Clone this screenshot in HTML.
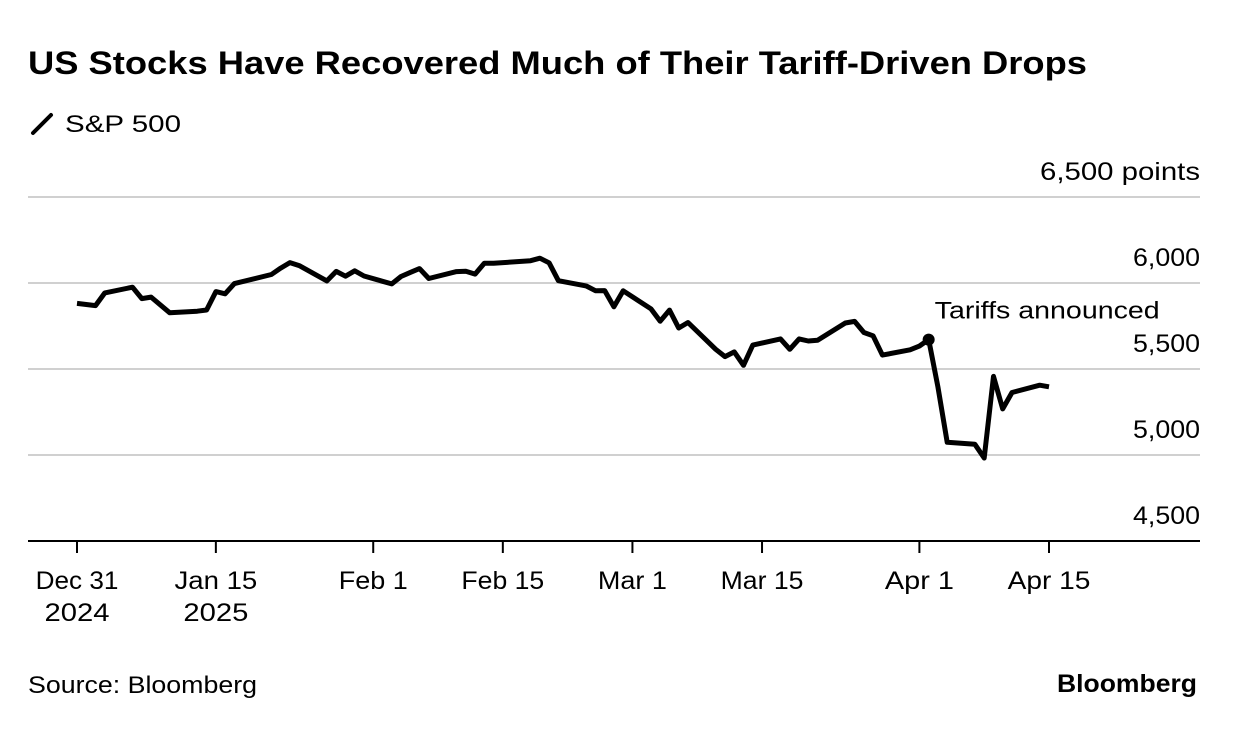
<!DOCTYPE html>
<html><head><meta charset="utf-8"><style>
body{margin:0;background:#fff;font-family:"Liberation Sans",sans-serif;}
svg text{font-family:"Liberation Sans",sans-serif;}
</style></head><body>
<svg width="1236" height="726" viewBox="0 0 1236 726">
<text x="28" y="74" font-size="32" font-weight="bold" fill="#000" textLength="1059" lengthAdjust="spacingAndGlyphs">US Stocks Have Recovered Much of Their Tariff-Driven Drops</text>
<g>
<line x1="33" y1="133" x2="51" y2="115" stroke="#000" stroke-width="4" stroke-linecap="round"/>
<text x="65" y="132" font-size="24" fill="#000" textLength="116" lengthAdjust="spacingAndGlyphs">S&amp;P 500</text>
</g>
<g id="grid"></g>
<g id="xaxis"></g>
<path id="line" fill="none" stroke="#000" stroke-width="5" stroke-linejoin="round"/>
<g id="annot"></g>
<text x="28" y="693" font-size="24" fill="#000" textLength="229" lengthAdjust="spacingAndGlyphs">Source: Bloomberg</text>
<text x="1197" y="692" font-size="25" font-weight="bold" text-anchor="end" fill="#000" textLength="140" lengthAdjust="spacingAndGlyphs">Bloomberg</text>
</svg>
<script>
const yTicks=[4500,5000,5500,6000,6500];
const yTickLabels=["4,500","5,000","5,500","6,000","6,500 points"];
const xTickDays=[0,15,32,46,60,74,91,105];
const xTickLabels=[["Dec 31","2024"],["Jan 15","2025"],["Feb 1"],["Feb 15"],["Mar 1"],["Mar 15"],["Apr 1"],["Apr 15"]];
const days=[0,2,3,6,7,8,10,13,14,15,16,17,21,22,23,24,27,28,29,30,31,34,35,36,37,38,41,42,43,44,45,49,50,51,52,55,56,57,58,59,62,63,64,65,66,69,70,71,72,73,76,77,78,79,80,83,84,85,86,87,90,91,92,93,94,97,98,99,100,101,104,105];
const values=[5881.63,5868.55,5942.47,5975.38,5909.03,5918.25,5827.04,5836.22,5842.91,5949.91,5937.34,5996.66,6049.24,6086.37,6118.71,6101.24,6012.28,6067.70,6039.31,6071.17,6040.53,5994.57,6037.88,6061.48,6083.57,6025.99,6066.44,6068.50,6051.97,6115.07,6114.63,6129.58,6144.15,6117.52,6013.13,5983.25,5955.25,5956.06,5861.57,5954.50,5849.72,5778.15,5842.63,5738.52,5770.20,5614.56,5572.07,5599.30,5521.52,5638.94,5675.12,5614.66,5675.29,5662.89,5667.56,5767.57,5776.65,5712.20,5693.31,5580.94,5611.85,5633.07,5670.97,5396.52,5074.08,5062.25,4982.77,5456.90,5268.05,5363.36,5405.97,5396.63];
const annotDay=92, annotValue=5670.97, annotText="Tariffs announced";
const NS="http://www.w3.org/2000/svg";
const X=d=>77+d*(1049-77)/105;
const Y=v=>541-(v-4500)*86/500;
function mk(tag,attrs,parent){const e=document.createElementNS(NS,tag);for(const k in attrs)e.setAttribute(k,attrs[k]);parent.appendChild(e);return e;}
const grid=document.getElementById('grid');
yTicks.forEach((t,i)=>{
 if(i>0){const l=mk('line',{x1:28,x2:1200,y1:Y(t),y2:Y(t),stroke:'#d0d0d0','stroke-width':2},grid);
 
 }
 const tx=mk('text',{x:1200,y:Y(t)-17,'font-size':25,'text-anchor':'end',fill:'#000'},grid);
 tx.textContent=yTickLabels[i];
 tx.setAttribute('textLength',i===4?160:67);
 tx.setAttribute('lengthAdjust','spacingAndGlyphs');
 
 
});
const xa=document.getElementById('xaxis');
const base=mk('line',{x1:28,x2:1200,y1:541,y2:541,stroke:'#000','stroke-width':2},xa);


xTickDays.forEach((d,i)=>{
 const tk=mk('line',{x1:X(d),x2:X(d),y1:541,y2:553,stroke:'#000','stroke-width':2},xa);
 
 
 xTickLabels[i].forEach((s,j)=>{
  const tx=mk('text',{x:X(d),y:589+j*32,'font-size':25,'text-anchor':'middle',fill:'#000'},xa);
  tx.textContent=s;
  tx.setAttribute('textLength',j===1?65:s.length*13.8);
  tx.setAttribute('lengthAdjust','spacingAndGlyphs');
  
  
 });
});
document.getElementById('line').setAttribute('d',days.map((d,i)=>(i?'L':'M')+X(d).toFixed(1)+','+Y(values[i]).toFixed(1)).join(''));
const an=document.getElementById('annot');
const dot=mk('circle',{cx:X(annotDay),cy:Y(annotValue),r:6,fill:'#000'},an);


const at=mk('text',{x:X(annotDay)+6,y:Y(annotValue)-21,'font-size':24,fill:'#000',textLength:225,lengthAdjust:'spacingAndGlyphs'},an);
at.textContent=annotText;


</script>
</body></html>
